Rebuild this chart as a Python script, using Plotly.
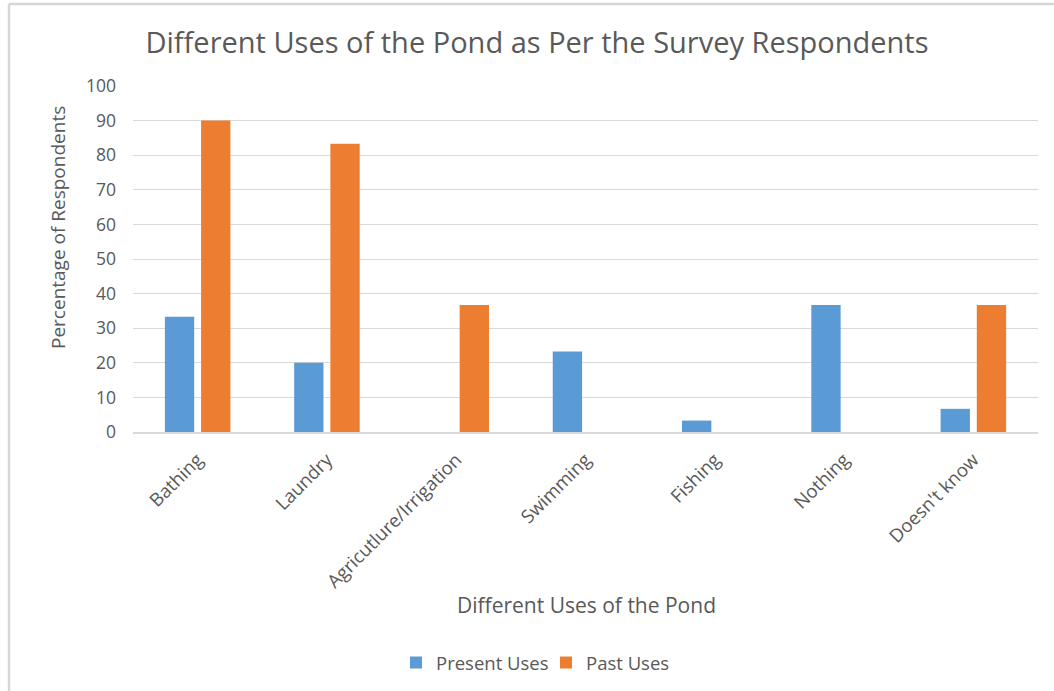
import plotly.graph_objects as go

categories = ["Bathing", "Laundry", "Agricutlure/Irrigation", "Swimming", "Fishing", "Nothing", "Doesn't know"]
present_uses = [33.3, 20.0, 0, 23.3, 3.3, 36.7, 6.7]
past_uses = [90.0, 83.3, 36.7, 0, 0, 0, 36.7]
y_ticks = [0, 10, 20, 30, 40, 50, 60, 70, 80, 90, 100]

TXT = "#595959"
FONT = "Open Sans"

fig = go.Figure()
fig.add_trace(go.Bar(x=categories, y=present_uses, name="Present Uses",
                     marker=dict(color="#5B9BD5", line=dict(width=0))))
fig.add_trace(go.Bar(x=categories, y=past_uses, name="Past Uses",
                     marker=dict(color="#ED7D31", line=dict(width=0))))

W, H = 1054, 691
L, R, T, B = 133, 16, 86, 259
pw, ph = W - L - R, H - T - B

def px(x):
    return (x - L) / pw

def py(y):
    return (H - B - y) / ph

fig.update_layout(
    width=W, height=H,
    margin=dict(l=L, r=R, t=T, b=B, autoexpand=False),
    paper_bgcolor="white", plot_bgcolor="white",
    barmode="group", bargap=0.44, bargroupgap=0.19,
    title=dict(text="Different Uses of the Pond as Per the Survey Respondents",
               x=px(537), xref="paper", xanchor="center", y=1 - 43 / H, yanchor="middle",
               font=dict(family=FONT, size=29, color=TXT)),
    font=dict(family=FONT, size=18, color=TXT),
    showlegend=True,
    legend=dict(orientation="h", x=px(546), xanchor="center", y=py(663), yanchor="middle",
                font=dict(family=FONT, size=18.5, color=TXT), itemwidth=30,
                entrywidth=105, traceorder="normal"),
    xaxis=dict(tickangle=-45, showline=True, linecolor="#d9d9d9", linewidth=1.5,
               ticks="", ticklabelstandoff=8, tickfont=dict(family=FONT, size=18.5, color=TXT),
               title=None, automargin=False),
    yaxis=dict(range=[0, 100], tickvals=y_ticks, showgrid=True, gridcolor="#d9d9d9",
               zeroline=False, showline=False, ticks="", ticklabelstandoff=16,
               tickfont=dict(family=FONT, size=17.5, color=TXT), title=None, automargin=False),
    annotations=[
        dict(text="Percentage of Respondents", xref="paper", yref="paper",
             x=px(58), y=py(228), xanchor="center", yanchor="middle", textangle=-90,
             showarrow=False, font=dict(family=FONT, size=19, color=TXT)),
        dict(text="Different Uses of the Pond", xref="paper", yref="paper",
             x=px(586), y=py(605), xanchor="center", yanchor="middle",
             showarrow=False, font=dict(family=FONT, size=21, color=TXT)),
    ],
    shapes=[
        dict(type="line", xref="paper", yref="paper", x0=px(9), x1=px(W + 5), y0=py(4), y1=py(4),
             line=dict(color="#d6d6d6", width=2.5)),
        dict(type="line", xref="paper", yref="paper", x0=px(9), x1=px(9), y0=py(4), y1=py(H + 5),
             line=dict(color="#d6d6d6", width=2.5)),
    ],
)

fig.write_html("out.html")
